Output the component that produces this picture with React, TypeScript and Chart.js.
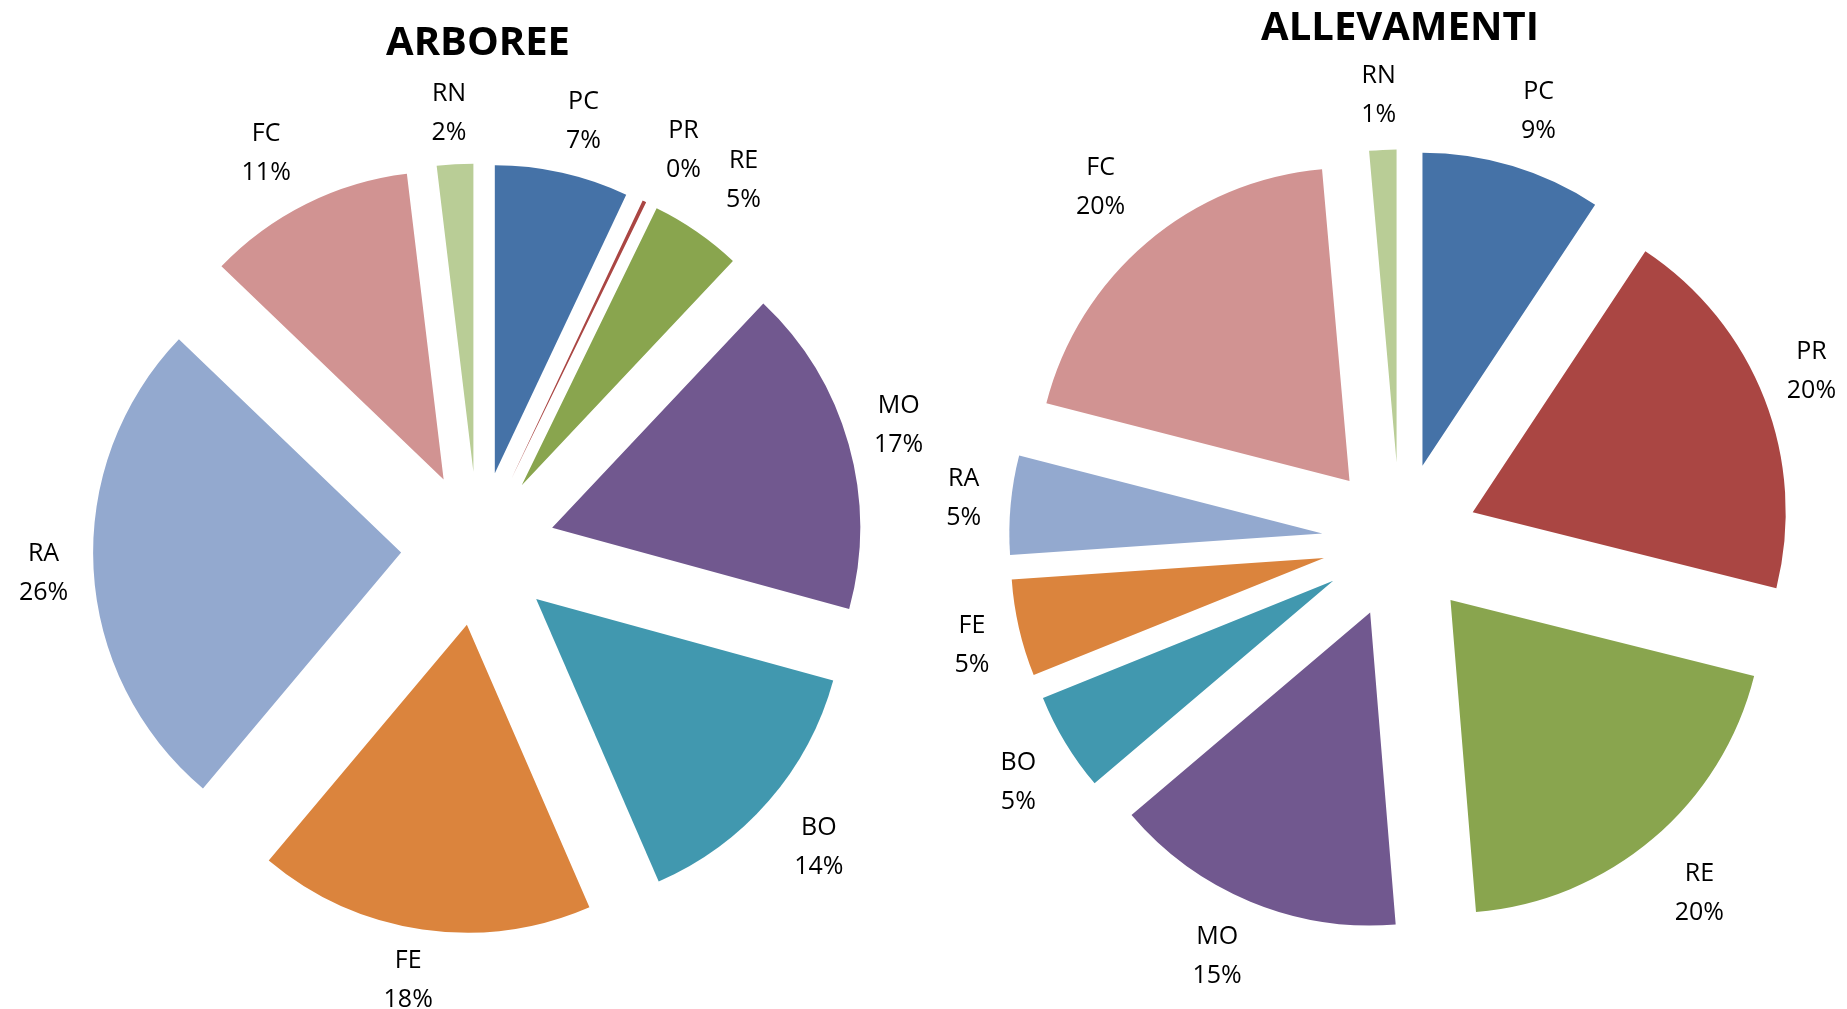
import React, { useEffect, useRef } from "react";
import { Chart, registerables } from "chart.js";

Chart.register(...registerables);

// ---- data ----
const categories = ["PC", "PR", "RE", "MO", "BO", "FE", "RA", "FC", "RN"];
const arboreeValues = [7.0, 0.2, 4.8, 17.2, 14.2, 17.6, 26.0, 10.9, 1.9];
const allevamentiValues = [9.3, 19.6, 19.8, 15.1, 5.1, 5.0, 5.1, 19.6, 1.4];
const sliceColors = ["#4572A7", "#AA4643", "#89A54E", "#71588F", "#4198AF", "#DB843D", "#93A9CF", "#D19392", "#B9CD96"];
const chartTitles = ["ARBOREE", "ALLEVAMENTI"];

const FONT = "'Open Sans', 'DejaVu Sans', sans-serif";

// Uniform (Excel-like) explosion: every slice is moved outward along its bisector by the same distance.
const explodePlugin = {
  id: "explode",
  beforeDatasetDraw(chart: any, args: any, opts: any) {
    const ctx = chart.ctx;
    args.meta.data.forEach((arc: any) => {
      const { startAngle, endAngle } = arc.getProps(["startAngle", "endAngle"], true);
      const mid = (startAngle + endAngle) / 2;
      ctx.save();
      ctx.translate(Math.cos(mid) * opts.distance, Math.sin(mid) * opts.distance);
      arc.draw(ctx, chart.chartArea);
      ctx.restore();
    });
    return false;
  },
};

// Labels outside the exploded slices ("category" / "percent" on two lines).
const outsideLabels = {
  id: "outsideLabels",
  afterDatasetsDraw(chart: any, _args: any, opts: any) {
    const { ctx } = chart;
    const meta = chart.getDatasetMeta(0);
    const ds = chart.data.datasets[0];
    const total = ds.data.reduce((a: number, b: number) => a + b, 0);
    ctx.save();
    ctx.font = `${opts.size}px ${FONT}`;
    ctx.fillStyle = "#000";
    ctx.textAlign = "center";
    ctx.textBaseline = "middle";
    meta.data.forEach((arc: any, i: number) => {
      const { x, y, startAngle, endAngle, outerRadius } = arc.getProps(
        ["x", "y", "startAngle", "endAngle", "outerRadius"],
        true
      );
      const a = (startAngle + endAngle) / 2;
      const cos = Math.cos(a);
      const sin = Math.sin(a);
      const edge = outerRadius + opts.explode;
      const fx = Math.sin(Math.min(Math.PI / 2, 2 * Math.asin(Math.min(1, Math.abs(cos)))));
      const fy = Math.min(1, 1.4 * Math.abs(sin));
      const cx = x + cos * edge + Math.sign(cos) * opts.padX * fx;
      const cy = y + sin * edge + Math.sign(sin) * opts.padY * fy;
      const l1 = chart.data.labels[i];
      const l2 = Math.round((ds.data[i] / total) * 100) + "%";
      ctx.fillText(l1, cx, cy - opts.lineGap / 2);
      ctx.fillText(l2, cx, cy + opts.lineGap / 2);
    });
    ctx.restore();
  },
};

function makeChart(
  canvas: HTMLCanvasElement,
  values: number[],
  title: string,
  radius: number,
  explode: number,
  titleTop: number,
  padBottom: number,
  padX: number,
  padY: number
) {
  return new Chart(canvas, {
    type: "pie",
    data: {
      labels: categories,
      datasets: [
        {
          data: values,
          backgroundColor: sliceColors,
          borderWidth: 0,
          radius: radius,
          offset: 0,
          hoverOffset: 0,
        } as any,
      ],
    },
    options: {
      responsive: false,
      animation: false,
      events: [],
      layout: { padding: { top: 0, bottom: padBottom, left: 0, right: 0 } },
      plugins: {
        legend: { display: false },
        tooltip: { enabled: false },
        title: {
          display: true,
          text: title,
          color: "#000",
          font: { family: FONT, size: 40, weight: "bold", lineHeight: 1.2 },
          padding: { top: titleTop, bottom: 0 },
        },
        explode: { distance: explode },
        outsideLabels: { size: 25, lineGap: 39, explode: explode, padX: padX, padY: padY },
      } as any,
    },
    plugins: [explodePlugin, outsideLabels],
  });
}

export default function App() {
  const leftRef = useRef<HTMLCanvasElement>(null);
  const rightRef = useRef<HTMLCanvasElement>(null);

  useEffect(() => {
    const c1 = makeChart(leftRef.current!, arboreeValues, chartTitles[0], 308, 77, 19.5, 30.5, 50, 51);
    const c2 = makeChart(rightRef.current!, allevamentiValues, chartTitles[1], 313, 78, 4.5, 31.5, 47, 55);
    return () => {
      c1.destroy();
      c2.destroy();
    };
  }, []);

  return (
    <div
      style={{
        position: "fixed",
        left: 0,
        top: 0,
        width: 1847,
        height: 1009,
        overflow: "hidden",
        background: "#fff",
      }}
    >
      <canvas ref={leftRef} width={956} height={1060} style={{ position: "absolute", left: 0, top: 0 }} />
      <canvas ref={rightRef} width={1000} height={1060} style={{ position: "absolute", left: 900, top: 0 }} />
    </div>
  );
}
